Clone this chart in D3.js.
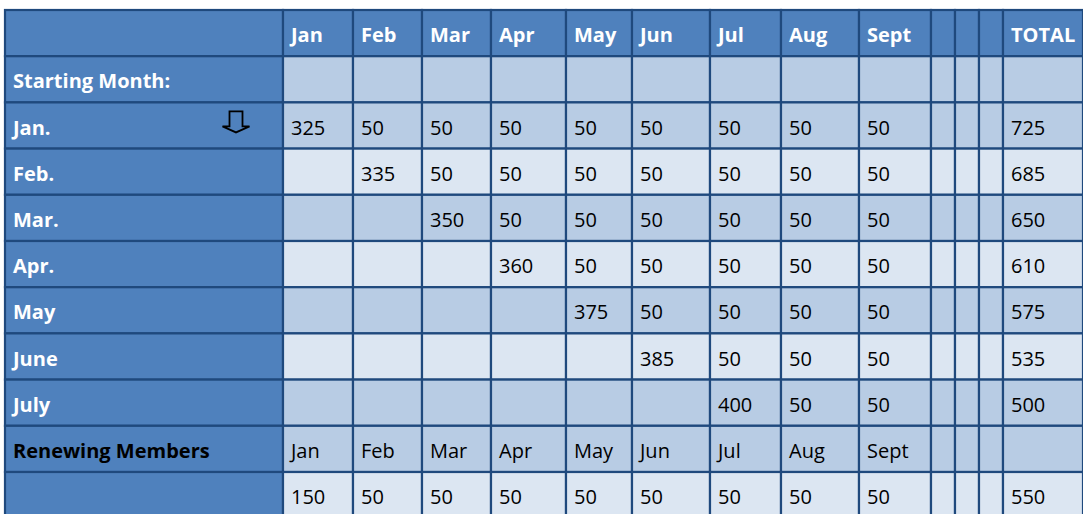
<!DOCTYPE html>
<html>
<head>
<meta charset="utf-8">
<script src="https://cdn.jsdelivr.net/npm/d3@7"></script>
<style>
  body { margin: 0; background: #fff; }
  svg { display: block; font-family: "Open Sans", Lato, sans-serif; }
</style>
</head>
<body>
<script>
// column headers (three unlabeled spacer columns before TOTAL)
const columns = ["Jan", "Feb", "Mar", "Apr", "May", "Jun", "Jul", "Aug", "Sept", "", "", "", "TOTAL"];
const rowLabels = ["", "Starting Month:", "Jan.", "Feb.", "Mar.", "Apr.", "May", "June", "July", "Renewing Members", ""];

// monthly member counts per starting month (blank = no value)
const janRow  = [325, 50, 50, 50, 50, 50, 50, 50, 50, "", "", "", 725];
const febRow  = ["", 335, 50, 50, 50, 50, 50, 50, 50, "", "", "", 685];
const marRow  = ["", "", 350, 50, 50, 50, 50, 50, 50, "", "", "", 650];
const aprRow  = ["", "", "", 360, 50, 50, 50, 50, 50, "", "", "", 610];
const mayRow  = ["", "", "", "", 375, 50, 50, 50, 50, "", "", "", 575];
const juneRow = ["", "", "", "", "", 385, 50, 50, 50, "", "", "", 535];
const julyRow = ["", "", "", "", "", "", 400, 50, 50, "", "", "", 500];
const renewMonths = ["Jan", "Feb", "Mar", "Apr", "May", "Jun", "Jul", "Aug", "Sept", "", "", "", ""];
const renewRow = [150, 50, 50, 50, 50, 50, 50, 50, 50, "", "", "", 550];

const tableRows = [
  columns,
  columns.map(() => ""),
  janRow, febRow, marRow, aprRow, mayRow, juneRow, julyRow,
  renewMonths, renewRow
];

// layout
const W = 1083, H = 514;
const colWidths = [278, 70, 69, 69, 75, 66, 78, 71, 78, 72, 24, 24, 24, 80];
const marginLeft = 5, marginTop = 10, rowH = 46.2;
const headBlue = "#4f81bd", border = "#1f497d";
const darkCell = "#b8cce4", lightCell = "#dce6f2";
const fontSize = 20;

const svg = d3.select("body").append("svg")
  .attr("width", W).attr("height", H);

const colIds = d3.range(colWidths.length);
const colX = d3.scaleOrdinal()
  .domain(colIds)
  .range(colWidths.map((w, i) => marginLeft + d3.sum(colWidths.slice(0, i))));

const y = d3.scaleBand()
  .domain(d3.range(tableRows.length))
  .range([marginTop, marginTop + rowH * tableRows.length])
  .paddingInner(0).paddingOuter(0);

// which rows are the lighter shade
const lightRows = new Set([3, 5, 7, 10]);

const cells = [];
tableRows.forEach((row, r) => {
  cells.push({ r, c: 0, text: rowLabels[r] });
  row.forEach((v, i) => cells.push({ r, c: i + 1, text: v }));
});

function fillFor(d) {
  if (d.c === 0 || d.r === 0) return headBlue;
  return lightRows.has(d.r) ? lightCell : darkCell;
}

const g = svg.append("g");

g.selectAll("rect.cell")
  .data(cells)
  .join("rect")
  .attr("class", "cell")
  .attr("x", d => colX(d.c))
  .attr("y", d => y(d.r))
  .attr("width", d => colWidths[d.c])
  .attr("height", y.bandwidth())
  .attr("fill", fillFor)
  .attr("stroke", border)
  .attr("stroke-width", 2.2);

g.selectAll("text.cell")
  .data(cells.filter(d => d.text !== ""))
  .join("text")
  .attr("class", "cell")
  .attr("x", d => colX(d.c) + 8)
  .attr("y", d => y(d.r) + y.bandwidth() / 2 + 9)
  .attr("font-size", fontSize)
  .attr("font-weight", d => (d.c === 0 || d.r === 0) ? "bold" : "normal")
  .attr("fill", d => {
    if (d.r === 9 && d.c === 0) return "#000";
    if (d.c === 0 || d.r === 0) return "#fff";
    return "#000";
  })
  .text(d => d.text);

// hollow down arrow next to "Jan."
const ax = colX(0) + 230.5, ay = y(2) + 9;
g.append("path")
  .attr("d", `M${ax - 6},${ay} h13 v15 h7 l-13.5,6 l-13.5,-6 h7 z`)
  .attr("fill", "none")
  .attr("stroke", "#000")
  .attr("stroke-width", 1.8)
  .attr("stroke-linejoin", "miter");
</script>
</body>
</html>
